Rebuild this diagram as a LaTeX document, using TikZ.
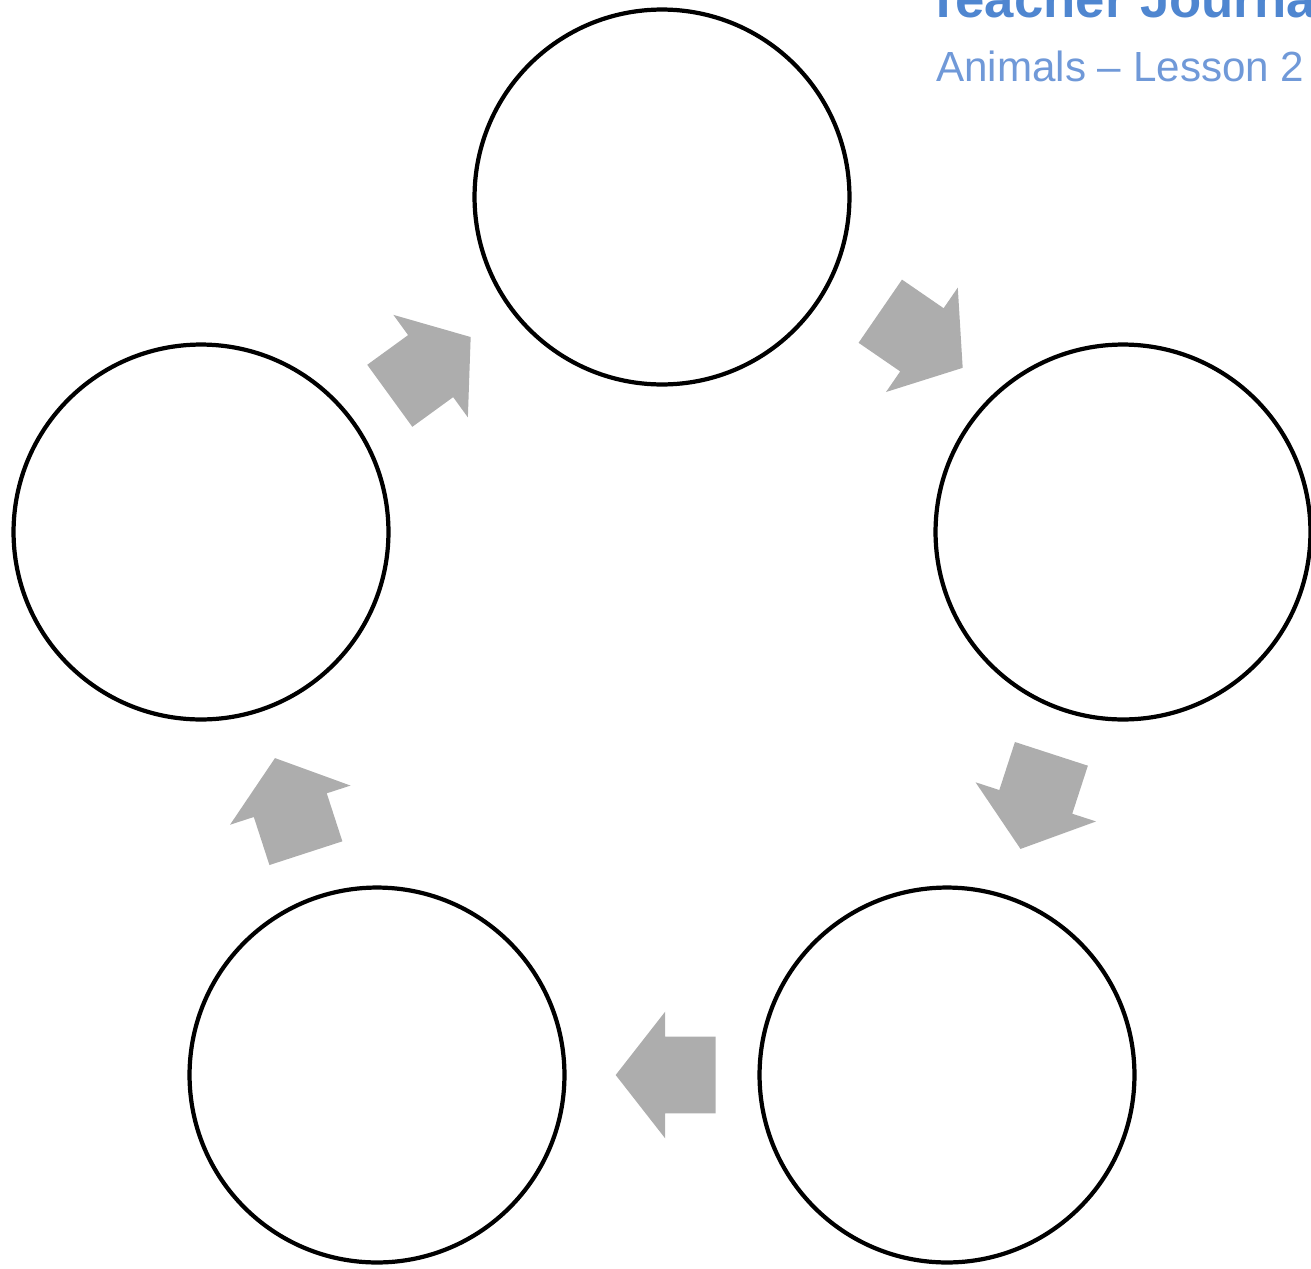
\documentclass[tikz,border=0pt]{standalone}
\usepackage{fontspec}
\setmainfont{Liberation Sans}
\usepackage{tikz}
\usetikzlibrary{positioning, shapes.arrows}
\definecolor{titleblue}{RGB}{79,134,208}
\definecolor{subblue}{RGB}{112,153,216}
\colorlet{arrowgray}{black!32}
\tikzset{
  stage/.style={circle,draw=black,line width=2.4pt,fill=white,minimum size=7.5cm,inner sep=0},
  cyclearrow/.style={single arrow,fill=arrowgray,draw=none,inner xsep=0,inner ysep=0.76cm,
    minimum height=2cm,minimum width=2.52cm,anchor=tail,
    single arrow head extend=0.5cm,single arrow tip angle=104},
  heading/.style={anchor=base west,inner sep=0,text=titleblue,font=\fontsize{30}{36}\selectfont\bfseries},
  subheading/.style={anchor=base west,inner sep=0,text=subblue,font=\fontsize{24}{29}\selectfont}
}

\begin{document}
\begin{tikzpicture}[x=0.02cm,y=-0.02cm]
    \useasboundingbox (0,0) rectangle (1311,1268);

    % Title
    \node[heading] (title) at (927,17) {Teacher Journal};
    \node[subheading] (subtitle) at (936,81) {Animals -- Lesson 2};

    % The five stages
    \node[stage] (top) at (662,197) {};
    \node[stage] (right) at (1123,532) {};
    \node[stage] (botright) at (947,1075) {};
    \node[stage] (botleft) at (377,1075) {};
    \node[stage] (left) at (201,532) {};

    % Arrows between the stages (placed by their tails)
    \node[cyclearrow, rotate=-34.5] (a1) at (880,311) {};
    \node[cyclearrow, rotate=-108] (a2) at (1051.5,753.5) {};
    \node[cyclearrow, rotate=180] (a3) at (716,1075) {};
    \node[cyclearrow, rotate=108] (a4) at (306,853.5) {};
    \node[cyclearrow, rotate=36] (a5) at (389.5,396) {};
\end{tikzpicture}
\end{document}
